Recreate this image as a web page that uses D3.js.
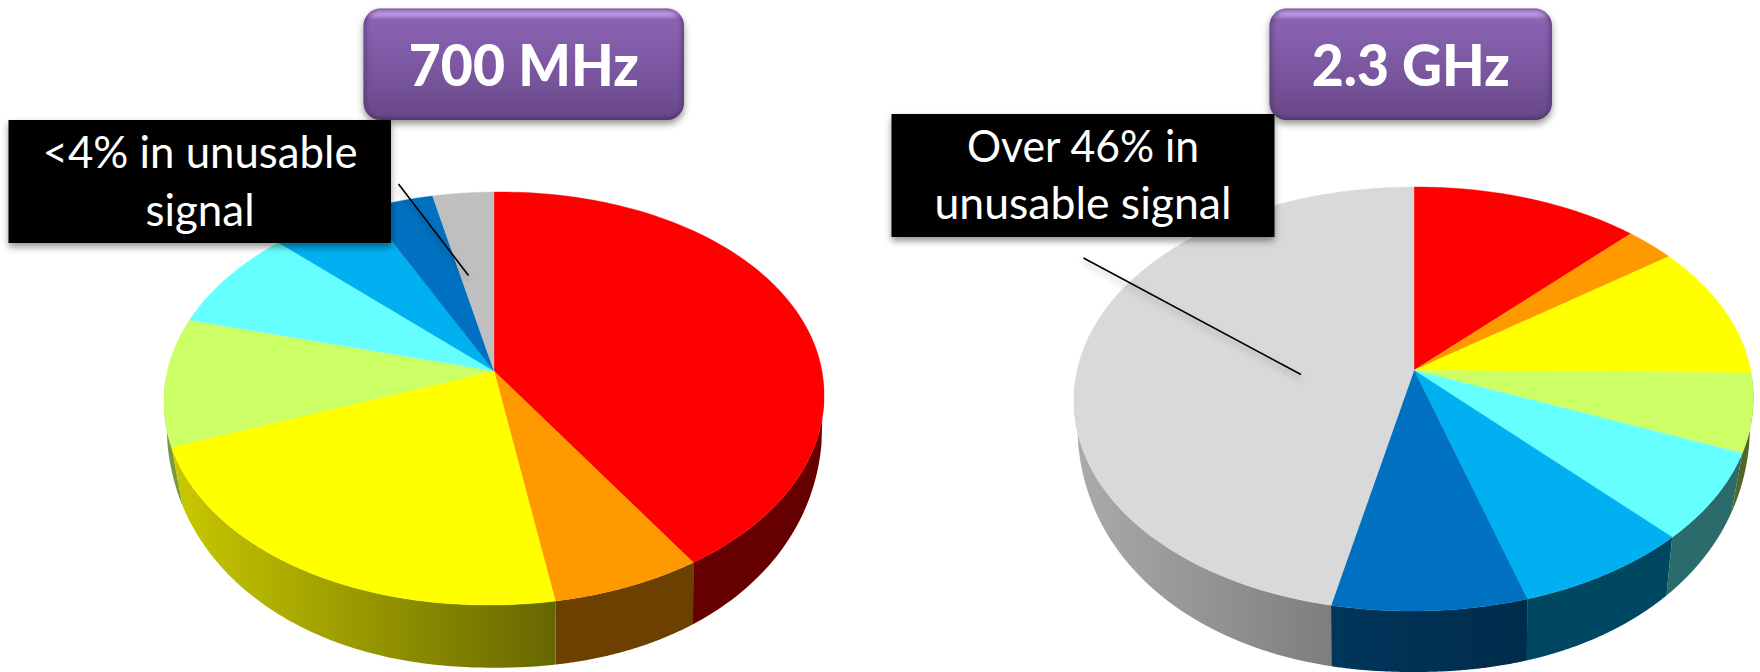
<!DOCTYPE html>
<html>
<head>
<meta charset="utf-8">
<style>
  html, body { margin: 0; padding: 0; background: #fff; }
  svg { display: block; }
  text { font-family: Lato, "Open Sans", sans-serif; fill: #fff; text-anchor: middle; }
</style>
<script src="https://cdn.jsdelivr.net/npm/d3@7"></script>
</head>
<body>
<svg id="chart" width="1760" height="672"></svg>
<script>
// Share of locations per signal band, clockwise from twelve o'clock.
const bands700 = [40.9, 6.5, 21.8, 10, 8, 5.6, 3.8, 3.4];
const bands2300 = [12.3, 2.7, 10.2, 6, 6.7, 7.4, 8.1, 46.6];
const colors700 = ["#ff0000", "#ff9900", "#ffff00", "#ccff66", "#66ffff", "#00b0f0", "#0070c0", "#bfbfbf"];
const colors2300 = ["#ff0000", "#ff9900", "#ffff00", "#ccff66", "#66ffff", "#00b0f0", "#0070c0", "#d9d9d9"];
// Brightness of each wall, from its left end to its right end.
const walls700 = [[.4, .4], [.42, .42], [.79, .4], [.6, .6], [.5, .5], [.5, .5], [.5, .5], [.5, .5]];
const walls2300 = [[.4, .4], [.4, .4], [.4, .4], [.4, .4], [.42, .42], [.41, .41], [.48, .39], [.79, .58]];
const titles = ["700 MHz", "2.3 GHz"];
const notes700 = ["<4% in unusable", "signal"];
const notes2300 = ["Over 46% in", "unusable signal"];

const svg = d3.select("#chart");
const defs = svg.append("defs");

const soft = defs.append("filter").attr("id", "soft")
  .attr("x", "-10%").attr("y", "-10%").attr("width", "120%").attr("height", "130%");
soft.append("feDropShadow").attr("dx", 0).attr("dy", 4).attr("stdDeviation", 3.5)
  .attr("flood-color", "#000").attr("flood-opacity", .42);

const lineSoft = defs.append("filter").attr("id", "lineSoft")
  .attr("filterUnits", "userSpaceOnUse").attr("x", 0).attr("y", 0).attr("width", 1760).attr("height", 672);
lineSoft.append("feDropShadow").attr("dx", 0).attr("dy", 4).attr("stdDeviation", 3)
  .attr("flood-color", "#000").attr("flood-opacity", .3);

const bevelBlur = defs.append("filter").attr("id", "bevelBlur")
  .attr("x", "-5%").attr("y", "-5%").attr("width", "110%").attr("height", "110%");
bevelBlur.append("feGaussianBlur").attr("stdDeviation", 2);

const purple = defs.append("linearGradient").attr("id", "purple").attr("x1", 0).attr("y1", 0).attr("x2", 0).attr("y2", 1);
[[0, "#a884cc"], [.02, "#c8a2f0"], [.055, "#bb94e2"], [.1, "#8a63b2"], [.5, "#7c58a2"], [.95, "#6a4a8a"], [1, "#5c4079"]]
  .forEach(([o, c]) => purple.append("stop").attr("offset", o).attr("stop-color", c));

const rimLine = d3.line();

// Walks out from the apex along the slice direction until it meets the rounded rim.
function rimPoint(angle, apex, ring, aspect) {
  const dx = aspect * Math.sin(angle), dy = -Math.cos(angle);
  const inside = t => {
    const u = (apex[0] + t * dx - ring.x) / ring.rx;
    const v = (apex[1] + t * dy - ring.y) / ring.ry;
    return Math.pow(Math.abs(u), ring.n) + Math.pow(Math.abs(v), ring.n) + 2 * ring.tilt * u * v < 1;
  };
  let lo = 0, hi = 1000;
  for (let i = 0; i < 40; i++) {
    const mid = (lo + hi) / 2;
    if (inside(mid)) lo = mid; else hi = mid;
  }
  return [apex[0] + lo * dx, apex[1] + lo * dy];
}

// Draws one tilted pie; the apex sits above the rim's centre, as in a perspective view.
function drawPie(id, values, colors, walls, view) {
  const slices = d3.pie().sort(null).value(d => d)(values);
  const steps = d => d3.range(0, 121).map(i => d.startAngle + (d.endAngle - d.startAngle) * i / 120);
  const rim = d => steps(d).map(a => rimPoint(a, view.apex, view.top, view.aspect));
  const floorApex = [view.apex[0], view.apex[1] + view.depth];
  const floor = d => steps(d).map(a => rimPoint(a, floorApex, view.bottom, view.aspect));

  const g = svg.append("g").attr("id", id);

  const order = slices.slice().sort((a, b) =>
    d3.max(rim(a), p => p[1]) - d3.max(rim(b), p => p[1]));

  order.forEach(d => {
    // Only the part of the rim facing the viewer has a visible wall.
    const faces = (_, i) => rim(d)[i][1] > view.top.y - 20;
    const upper = rim(d).filter(faces), lower = floor(d).filter(faces);
    if (upper.length < 2) return;
    const front = upper.filter(p => p[1] > view.top.y);
    const xs = d3.extent((front.length ? front : upper), p => p[0]);
    const gid = `${id}-wall-${d.index}`;
    const base = d3.color(colors[d.index]);
    const [from, to] = walls[d.index];
    const tint = f => d3.rgb(base.r * f, base.g * f, base.b * f).formatHex();
    const grad = defs.append("linearGradient").attr("id", gid)
      .attr("gradientUnits", "userSpaceOnUse")
      .attr("x1", xs[0]).attr("x2", xs[1]).attr("y1", 0).attr("y2", 0);
    grad.append("stop").attr("offset", 0).attr("stop-color", tint(from));
    grad.append("stop").attr("offset", 1).attr("stop-color", tint(to));
    g.append("path")
      .attr("d", rimLine(upper.concat(lower.reverse())) + "Z")
      .attr("fill", `url(#${gid})`);
  });

  g.selectAll("path.face").data(slices).join("path")
    .attr("class", "face")
    .attr("d", d => rimLine([view.apex].concat(rim(d))) + "Z")
    .attr("fill", d => colors[d.index])
    .attr("stroke", d => colors[d.index])
    .attr("stroke-width", .4);
}

drawPie("pie700", bands700, colors700, walls700, {
  apex: [494, 371], aspect: 1.617, depth: 62,
  top: { x: 494, y: 398.5, rx: 330, ry: 206.5, n: 2.03, tilt: .015 },
  bottom: { x: 494.5, y: 420, rx: 328, ry: 247.7, n: 2.15, tilt: 0 }
});
drawPie("pie2300", bands2300, colors2300, walls2300, {
  apex: [1414, 370.3], aspect: 1.627, depth: 62,
  top: { x: 1413.7, y: 399, rx: 339.7, ry: 212, n: 2.03, tilt: .006 },
  bottom: { x: 1413.7, y: 420, rx: 336.5, ry: 252, n: 2.15, tilt: 0 }
});

// Title badges with a darkened bevel along their edges
function badge(label, x0, x1, textWidth, id) {
  const y0 = 8.5, h = 111.5, r = 17;
  defs.append("clipPath").attr("id", id).append("rect")
    .attr("x", x0).attr("y", y0).attr("width", x1 - x0).attr("height", h).attr("rx", r);
  svg.append("rect").attr("x", x0).attr("y", y0).attr("width", x1 - x0).attr("height", h)
    .attr("rx", r).attr("fill", "url(#purple)").attr("filter", "url(#soft)");
  svg.append("g").attr("clip-path", `url(#${id})`).append("rect")
    .attr("x", x0).attr("y", y0).attr("width", x1 - x0).attr("height", h).attr("rx", r)
    .attr("fill", "none").attr("stroke", "#4a3066").attr("stroke-width", 4).attr("opacity", .75)
    .attr("filter", "url(#bevelBlur)");
  svg.append("text").attr("x", (x0 + x1) / 2).attr("y", 86)
    .attr("font-size", 58).attr("font-weight", 900)
    .attr("textLength", textWidth).attr("lengthAdjust", "spacingAndGlyphs")
    .text(label);
}
badge(titles[0], 363.5, 684, 230, "badge700");
badge(titles[1], 1269.5, 1552, 198, "badge2300");

// Callouts with their leader lines
function callout(lines, box, baselines, cx, widths, leader) {
  svg.append("line").attr("x1", leader[0]).attr("y1", leader[1]).attr("x2", leader[2]).attr("y2", leader[3])
    .attr("stroke", "#000").attr("stroke-width", 1.6).attr("filter", "url(#lineSoft)");
  svg.append("rect").attr("x", box[0]).attr("y", box[1]).attr("width", box[2] - box[0]).attr("height", box[3] - box[1])
    .attr("fill", "#000").attr("filter", "url(#soft)");
  lines.forEach((t, i) => {
    svg.append("text").attr("x", cx).attr("y", baselines[i])
      .attr("font-size", 45).attr("font-weight", 400)
      .attr("textLength", widths[i]).attr("lengthAdjust", "spacingAndGlyphs")
      .text(t);
  });
}
callout(notes700, [8.5, 120, 391, 243], [168, 226], 200, [315, 109], [398.5, 184, 468.5, 275.5]);
callout(notes2300, [891.5, 114, 1274.5, 237], [162, 219], 1083, [232, 297], [1083.5, 258, 1301, 374.5]);
</script>
</body>
</html>
